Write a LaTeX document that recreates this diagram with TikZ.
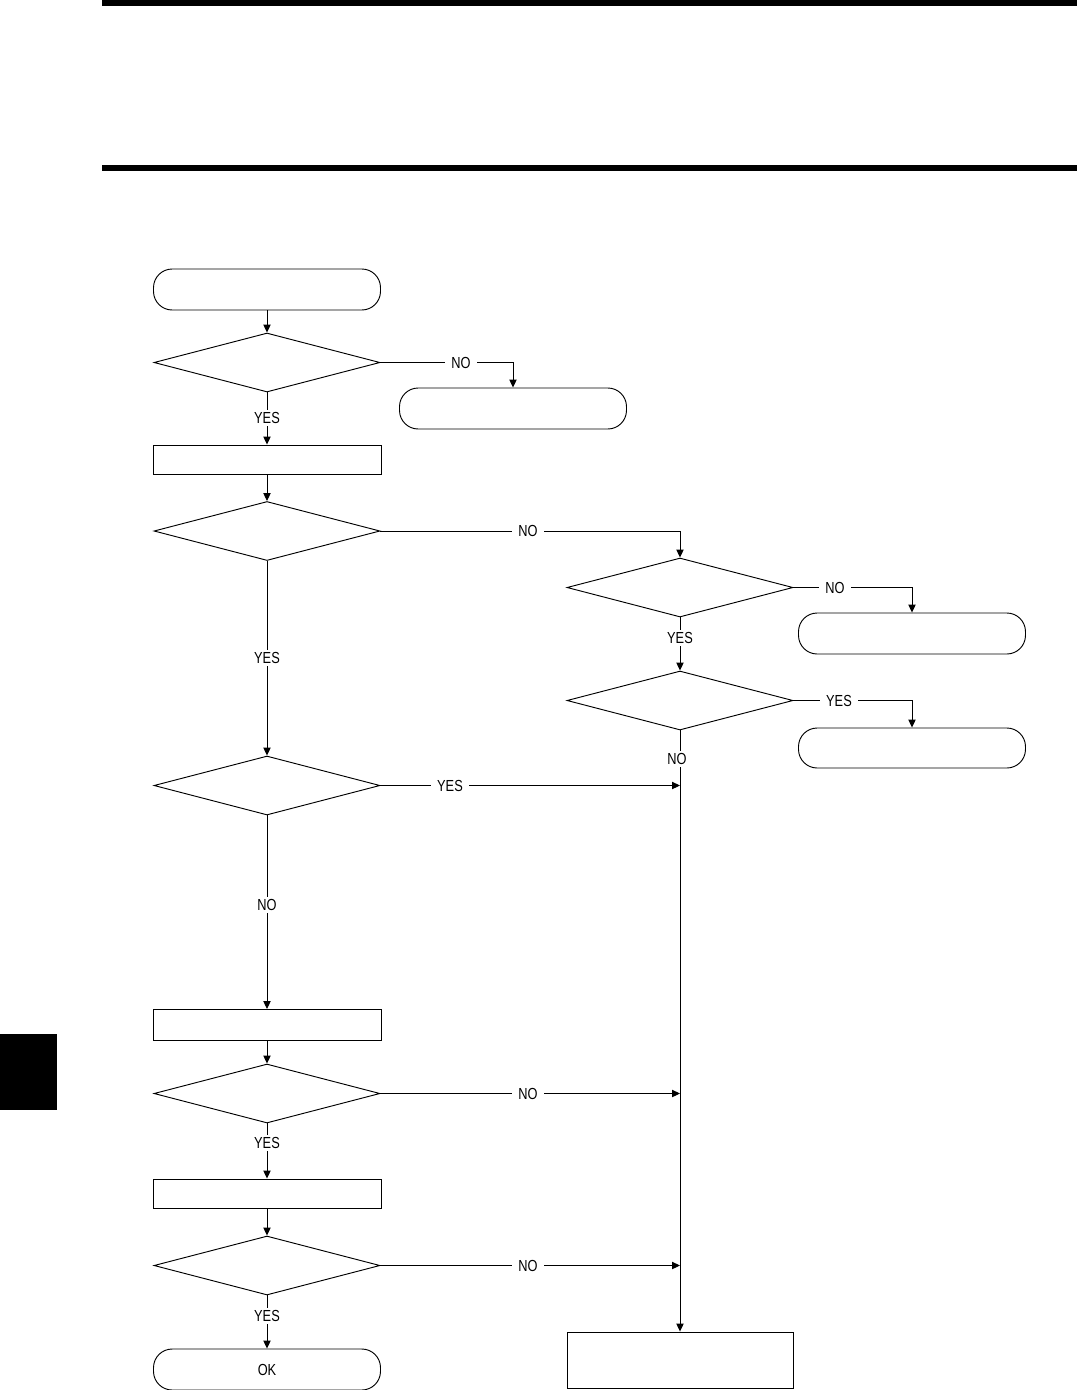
\documentclass[tikz,border=0pt]{standalone}
\usepackage{fontspec}
\setmainfont{Liberation Sans}[FakeStretch=0.8]
\usetikzlibrary{shapes.geometric,arrows.meta}
\tikzset{
  term/.style={draw, line width=0.7pt, rounded corners=14pt, minimum width=227*0.75pt, minimum height=41*0.75pt, inner sep=0pt, font=\fontsize{12}{14}\selectfont},
  dec/.style={draw, line width=0.7pt, diamond, minimum width=226*0.75pt, minimum height=59*0.75pt, inner sep=0pt},
  proc/.style={draw, line width=0.7pt, rectangle, minimum width=228*0.75pt, minimum height=29*0.75pt, inner sep=0pt},
  lab/.style={fill=white, inner xsep=5pt, inner ysep=2pt, font=\fontsize{12}{14}\selectfont},
  arr/.style={line width=0.7pt, -{Triangle[length=6pt,width=5.5pt]}},
}
\begin{document}
\begin{tikzpicture}[x=0.75pt,y=-0.75pt]
\useasboundingbox (0,0) rectangle (1077,1390);
% page decorations
\fill (102,0) rectangle (1077,6);
\fill (102,165) rectangle (1077,171);
\fill (0,1034) rectangle (57,1110);
% nodes
\node[term] (start) at (267,289.5) {};
\node[dec] (d1) at (267,362.5) {};
\node[term] (t2) at (513,408.5) {};
\node[proc] (p1) at (267,459.5) {};
\node[dec] (d2) at (267,531) {};
\node[dec] (d3) at (680,587.5) {};
\node[term] (t3) at (912,633.5) {};
\node[dec] (d4) at (680,700.5) {};
\node[term, minimum height=40*0.75pt] (t4) at (912,748) {};
\node[dec] (d5) at (267,785.5) {};
\node[proc, minimum height=31*0.75pt] (p2) at (267,1025) {};
\node[dec] (d6) at (267,1093.5) {};
\node[proc] (p3) at (267,1193.5) {};
\node[dec] (d7) at (267,1265.5) {};
\node[term] (ok) at (267,1369.5) {OK};
\node[draw, line width=0.7pt, minimum width=226*0.75pt, minimum height=56*0.75pt, inner sep=0pt] (fin) at (680,1360) {};
% connectors
\draw[arr] (start) -- (d1);
\draw[arr] (d1.east) -| (t2.north);
\draw[arr] (d1) -- (p1);
\draw[arr] (p1) -- (d2);
\draw[arr] (d2.east) -| (d3.north);
\draw[arr] (d3.east) -| (t3.north);
\draw[arr] (d3) -- (d4);
\draw[arr] (d4.east) -| (t4.north);
\draw[arr] (d4.south) -- (fin.north);
\draw[arr] (d2) -- (d5);
\draw[arr] (d5.east) -- (d5.east -| fin.north);
\draw[arr] (d5) -- (p2);
\draw[arr] (p2) -- (d6);
\draw[arr] (d6.east) -- (d6.east -| fin.north);
\draw[arr] (d6) -- (p3);
\draw[arr] (p3) -- (d7);
\draw[arr] (d7.east) -- (d7.east -| fin.north);
\draw[arr] (d7) -- (ok);
% labels
\node[lab] (l1) at (461,362.5) {NO};
\node[lab] (l2) at (267,418) {YES};
\node[lab] (l3) at (528,531) {NO};
\node[lab] (l4) at (267,658) {YES};
\node[lab] (l5) at (835,587.5) {NO};
\node[lab] (l6) at (680,638) {YES};
\node[lab] (l7) at (839,700.5) {YES};
\node[lab] (l8) at (677,759) {NO};
\node[lab] (l9) at (450,785.5) {YES};
\node[lab] (l10) at (267,905) {NO};
\node[lab] (l11) at (528,1093.5) {NO};
\node[lab] (l12) at (267,1143) {YES};
\node[lab] (l13) at (528,1265.5) {NO};
\node[lab] (l14) at (267,1316) {YES};
\end{tikzpicture}
\end{document}
